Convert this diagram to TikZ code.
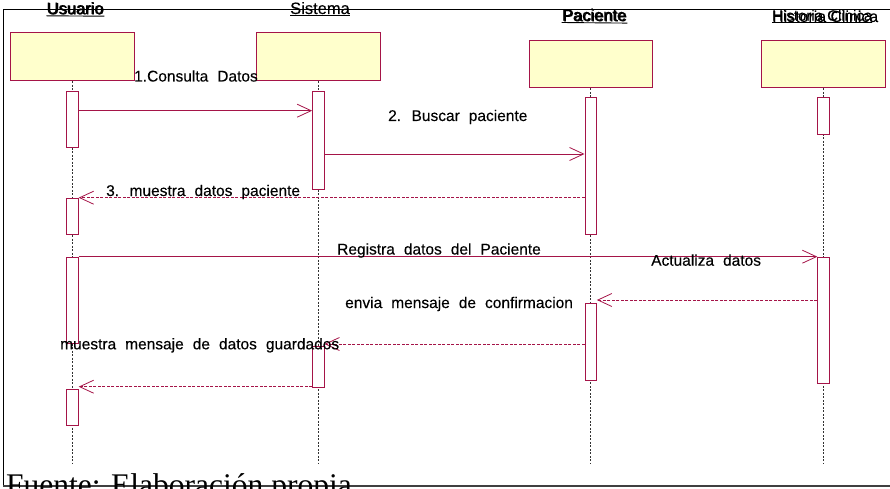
\documentclass[tikz,border=0pt]{standalone}
\usepackage{fontspec}
\setmainfont{Liberation Sans}
\newfontfamily\lblfont{Liberation Sans}[FakeBold=0.2]
\newfontfamily\capfont{Liberation Serif}
\usetikzlibrary{arrows.meta}
\definecolor{umlred}{RGB}{165,20,72}
\definecolor{umlfill}{RGB}{255,255,204}
\definecolor{lifegray}{RGB}{50,50,50}
\begin{document}
\begin{tikzpicture}[x=1pt,y=-1pt,
  hdrbox/.style={draw=umlred, fill=umlfill, line width=0.9pt, minimum width=123.5pt, minimum height=47.7pt, inner sep=0pt},
  actbox/.style={draw=umlred, fill=white, line width=0.9pt, minimum width=11.5pt, inner sep=0pt, anchor=north},
  lifeline/.style={draw=lifegray, line width=0.7pt, dash pattern=on 2pt off 1.5pt},
  call/.style={draw=umlred, line width=0.8pt, -{Straight Barb[length=14pt,width=13pt,line width=0.8pt]}},
  reply/.style={call, dash pattern=on 3pt off 1.5pt},
  msglbl/.style={font={\lblfont\fontsize{15.5}{19}\selectfont\spaceskip=9pt\relax}, inner sep=0pt, anchor=base west},
  hdrlbl/.style={font={\lblfont\fontsize{16.5}{19}\selectfont}, inner sep=0pt, anchor=base},
  uline/.style={line width=0.9pt},
]
\useasboundingbox (0,0) rectangle (890,489);
\clip (0,0) rectangle (890,489);

% outer frame
\draw[line width=0.9pt] (890,9.5) -- (3.3,9.5) -- (3.3,486);
\draw[line width=1.3pt, draw=black!75] (3.3,486) -- (890,486);

% object boxes
\node[hdrbox] (bu) at (72.3,56.8) {};
\node[hdrbox] (bs) at (318.3,56.8) {};
\node[hdrbox] (bp) at (590.8,64) {};
\node[hdrbox] (bh) at (823.3,64) {};

% object names (underlined, overprinted)
\node[hdrlbl] (hu) at (75,14) {Usuario};
\node[hdrlbl] (hub) at (75.8,14.4) {Usuario};
\draw[uline] ([yshift=-1.8pt]hu.base west) -- ([yshift=-1.8pt]hub.base east);
\node[hdrlbl] (hs) at (320,14) {Sistema};
\draw[uline] ([yshift=-1.8pt]hs.base west) -- ([yshift=-1.8pt]hs.base east);
\node[hdrlbl] (hp) at (594,20.7) {Paciente};
\node[hdrlbl] (hpb) at (595,21.3) {Paciente};
\draw[uline] ([yshift=-1.8pt]hp.base west) -- ([yshift=-1.8pt]hpb.base east);
\node[hdrlbl, anchor=base west, font={\lblfont\fontsize{15}{18}\selectfont}] (hh) at (772,20.7) {Historia Clinica};
\node[hdrlbl, anchor=base west, font={\lblfont\fontsize{15.9}{18}\selectfont}] (hhb) at (772,22) {Historia Clinica};
\draw[uline] ([yshift=-1.8pt]hh.base west) -- ([yshift=-1.8pt]hh.base east);

% lifelines
\coordinate (lend) at (0,463);
\draw[lifeline] (bu.south) -- (bu.south |- lend);
\draw[lifeline] (bs.south) -- (bs.south |- lend);
\draw[lifeline] (bp.south) -- (bp.south |- lend);
\draw[lifeline] (bh.south) -- (bh.south |- lend);

% activation bars
\node[actbox, minimum height=56pt] (u1) at (72.5,91) {};
\node[actbox, minimum height=36pt] (u2) at (72.5,197.5) {};
\node[actbox, minimum height=86.3pt] (u3) at (72.5,256.7) {};
\node[actbox, minimum height=35.7pt] (u4) at (72.5,389.3) {};
\node[actbox, minimum height=98.3pt] (s1) at (318.3,91) {};
\node[actbox, minimum height=40.7pt] (s2) at (318.3,346) {};
\node[actbox, minimum height=136.7pt] (p1) at (590.7,97.3) {};
\node[actbox, minimum height=77.3pt] (p2) at (590.7,302.7) {};
\node[actbox, minimum height=36.7pt] (h1) at (823.5,97.3) {};
\node[actbox, minimum height=126.6pt] (h2) at (823.5,256.7) {};

% message heights
\coordinate (m1) at (0,110.7);
\coordinate (m2) at (0,154);
\coordinate (m3) at (0,197.7);
\coordinate (m4) at (0,256.7);
\coordinate (m5) at (0,300);
\coordinate (m6) at (0,344);
\coordinate (m7) at (0,386.7);

% messages
\draw[call]  (u1.east |- m1) -- (s1.west |- m1);
\draw[call]  (s1.east |- m2) -- (p1.west |- m2);
\draw[reply] (p1.west |- m3) -- (u2.east |- m3);
\draw[call]  (u3.east |- m4) -- (h2.west |- m4);
\draw[reply] (h2.west |- m5) -- (p2.east |- m5);
\draw[reply] (p2.west |- m6) -- (s2.east |- m6);
\draw[reply] (s2.west |- m7) -- (u4.east |- m7);

% message labels
\node[msglbl] (l1) at (134,81.5) {1.Consulta Datos};
\node[msglbl] (l2) at (388,121) {2. Buscar paciente};
\node[msglbl] (l3) at (106,196) {3. muestra datos paciente};
\node[msglbl] (l4) at (337,254.5) {Registra datos del Paciente};
\node[msglbl] (l5) at (651,265.7) {Actualiza datos};
\node[msglbl] (l6) at (345,308) {envia mensaje de confirmacion};
\node[msglbl] (l7) at (60,349.3) {muestra mensaje de datos guardados};

% source note
\node[inner sep=0pt, anchor=base west, font={\capfont\fontsize{31.5}{36}\selectfont}] (src) at (6,495) {Fuente: Elaboración propia};
\end{tikzpicture}
\end{document}
